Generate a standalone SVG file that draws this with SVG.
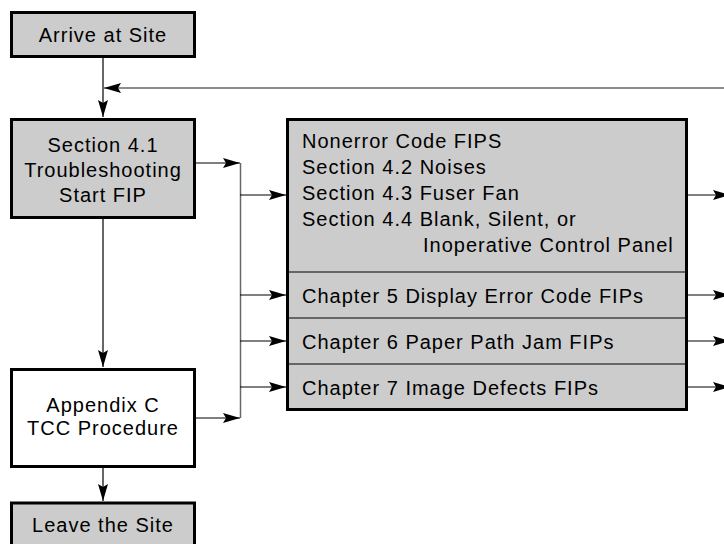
<svg xmlns="http://www.w3.org/2000/svg" width="724" height="544" viewBox="0 0 724 544">
<style>
.box{fill:#cccccc;stroke:#000;stroke-width:3}
.wbox{fill:#ffffff;stroke:#000;stroke-width:3}
.div{fill:none;stroke:#000;stroke-width:1.2}
text{font-family:"Liberation Sans",Arial,Helvetica,sans-serif;font-size:20px;letter-spacing:1px;fill:#000}
.c{text-anchor:middle}
.ln{fill:none;stroke:#000;stroke-width:1.2}
.gl{fill:none;stroke:#666;stroke-width:1.5}
.ah{fill:#000}
</style>
<defs>
<marker id="arr" markerWidth="17" markerHeight="10" refX="17" refY="5" orient="auto" markerUnits="userSpaceOnUse">
<path d="M0,0 L17,5 L0,10 L3,5 Z" fill="#000"/>
</marker>
</defs>
<g id="connectors">
<line class="ln" x1="103" y1="57" x2="103" y2="117" marker-end="url(#arr)"/>
<line class="gl" x1="724" y1="88" x2="104" y2="88" marker-end="url(#arr)"/>
<line class="ln" x1="103" y1="218" x2="103" y2="367" marker-end="url(#arr)"/>
<line class="ln" x1="103" y1="467" x2="103" y2="501" marker-end="url(#arr)"/>
<line class="ln" x1="195" y1="163" x2="240" y2="163" marker-end="url(#arr)"/>
<line class="ln" x1="195" y1="418" x2="240" y2="418" marker-end="url(#arr)"/>
<line class="gl" x1="240.5" y1="163" x2="240.5" y2="418"/>
<line class="ln" x1="240" y1="195" x2="286" y2="195" marker-end="url(#arr)"/>
<line class="ln" x1="240" y1="295" x2="286" y2="295" marker-end="url(#arr)"/>
<line class="ln" x1="240" y1="341" x2="286" y2="341" marker-end="url(#arr)"/>
<line class="ln" x1="240" y1="387" x2="286" y2="387" marker-end="url(#arr)"/>
<line class="ln" x1="688" y1="195" x2="730" y2="195" marker-end="url(#arr)"/>
<line class="ln" x1="688" y1="295" x2="730" y2="295" marker-end="url(#arr)"/>
<line class="ln" x1="688" y1="341" x2="730" y2="341" marker-end="url(#arr)"/>
<line class="ln" x1="688" y1="387" x2="730" y2="387" marker-end="url(#arr)"/>
</g>
<g id="arrive">
<rect class="box" x="11.5" y="12.5" width="183" height="44"/>
<text class="c" x="103" y="42">Arrive at Site</text>
</g>
<g id="section41">
<rect class="box" x="11.5" y="119.5" width="183" height="98"/>
<text class="c" x="103" y="152">Section 4.1</text>
<text class="c" x="103" y="177">Troubleshooting</text>
<text class="c" x="103" y="202">Start FIP</text>
</g>
<g id="appendix">
<rect class="wbox" x="11.5" y="369.5" width="183" height="97"/>
<text class="c" x="103" y="411.5">Appendix C</text>
<text class="c" x="103" y="435">TCC Procedure</text>
</g>
<g id="leave">
<rect class="box" x="11.5" y="503" width="183" height="50"/>
<text class="c" x="103" y="531.5">Leave the Site</text>
</g>
<g id="fips">
<rect class="box" x="287.5" y="119.5" width="399" height="290"/>
<line class="div" x1="287" y1="272" x2="687" y2="272"/>
<line class="div" x1="287" y1="318" x2="687" y2="318"/>
<line class="div" x1="287" y1="364" x2="687" y2="364"/>
<text x="302" y="148">Nonerror Code FIPS</text>
<text x="302" y="174">Section 4.2 Noises</text>
<text x="302" y="200">Section 4.3 Fuser Fan</text>
<text x="302" y="226">Section 4.4 Blank, Silent, or</text>
<text x="423" y="252">Inoperative Control Panel</text>
<text x="302" y="303">Chapter 5 Display Error Code FIPs</text>
<text x="302" y="349">Chapter 6 Paper Path Jam FIPs</text>
<text x="302" y="395">Chapter 7 Image Defects FIPs</text>
</g>
</svg>
